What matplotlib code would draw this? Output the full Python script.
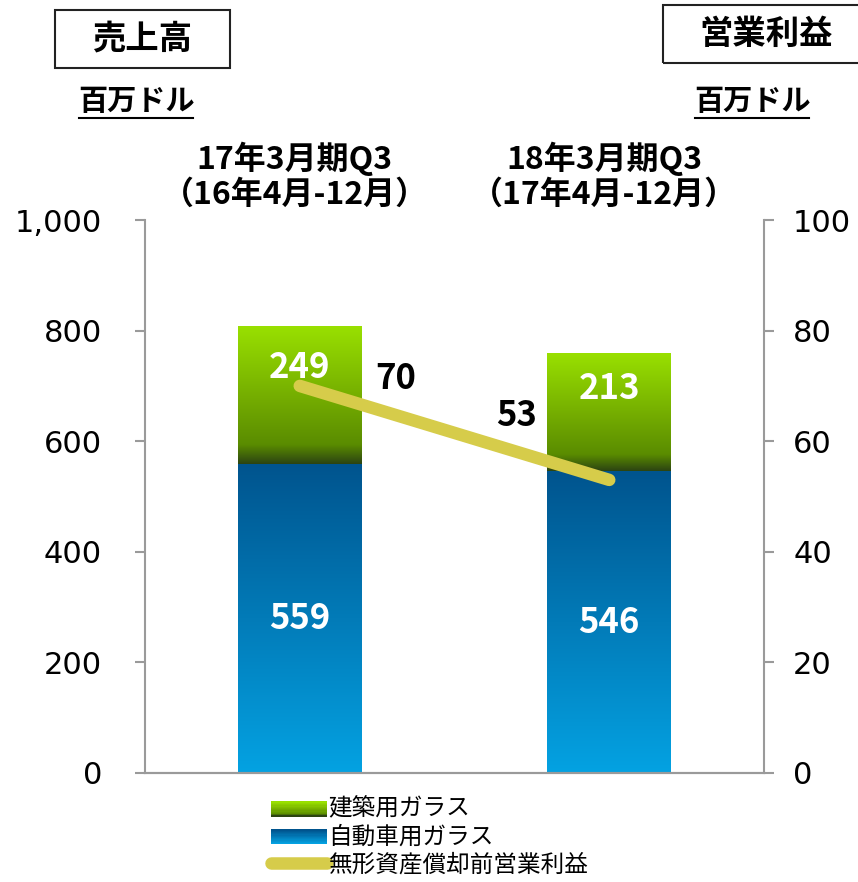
import numpy as np
import matplotlib
matplotlib.use("Agg")
import matplotlib.pyplot as plt
from matplotlib.colors import LinearSegmentedColormap
from matplotlib.patches import Rectangle, Patch
from matplotlib.lines import Line2D
from matplotlib.legend_handler import HandlerPatch

periods = ["17年3月期Q3\n（16年4月-12月）", "18年3月期Q3\n（17年4月-12月）"]
auto_glass = [559, 546]
arch_glass = [249, 213]
op_profit = [70, 53]
series_names = ["建築用ガラス", "自動車用ガラス", "無形資産償却前営業利益"]

jp = ["Noto Sans CJK JP", "DejaVu Sans"]
plt.rcParams["font.family"] = jp

green_cm = LinearSegmentedColormap.from_list(
    "g", [(0, "#2c4412"), (0.14, "#5a8c00"), (0.45, "#72aa00"), (1, "#99e000")])
blue_cm = LinearSegmentedColormap.from_list(
    "b", [(0, "#04a2e2"), (1, "#00548e")])
line_col = "#d6cc4a"
axis_col = "#9a9a9a"

W, H = 858, 882
fig = plt.figure(figsize=(W / 100, H / 100), dpi=100)
ax = fig.add_axes([145 / W, 1 - 773 / H, (764 - 145) / W, (773 - 220) / H])
ax2 = ax.twinx()


def grad_bar(a, x, bottom, height, width, cmap):
    rect = Rectangle((x - width / 2, bottom), width, height, facecolor="none", edgecolor="none")
    a.add_patch(rect)
    grad = np.linspace(0, 1, 256).reshape(-1, 1)
    im = a.imshow(grad, cmap=cmap, origin="lower", aspect="auto",
                  extent=(x - width / 2, x + width / 2, bottom, bottom + height), zorder=2)
    im.set_clip_path(rect)


xs = np.arange(len(periods))
bw = 0.40
for i in xs:
    grad_bar(ax, i, 0, auto_glass[i], bw, blue_cm)
    grad_bar(ax, i, auto_glass[i], arch_glass[i], bw, green_cm)
    ax.text(i, auto_glass[i] / 2, str(auto_glass[i]), color="white", fontsize=25,
            fontweight="bold", ha="center", va="center", family=jp, zorder=5)
    top = auto_glass[i] + arch_glass[i]
    ax.text(i, top - 0.3 * arch_glass[i], str(arch_glass[i]), color="white", fontsize=25,
            fontweight="bold", ha="center", va="center", family=jp, zorder=5)

ax.set_xlim(-0.5, 1.5)
ax.set_ylim(0, 1000)
ax.set_yticks(range(0, 1001, 200))
ax.set_yticklabels([f"{v:,}" for v in range(0, 1001, 200)], family="DejaVu Sans", fontsize=22)
ax.set_xticks([])

ax2.plot(xs, op_profit, color=line_col, lw=9, solid_capstyle="round", zorder=6)
ax2.set_ylim(0, 100)
ax2.set_yticks(range(0, 101, 20))
ax2.set_yticklabels([str(v) for v in range(0, 101, 20)], family="DejaVu Sans", fontsize=22)
ax2.text(xs[0] + 0.31, op_profit[0] + 1.4, str(op_profit[0]), fontsize=25, fontweight="bold",
         ha="center", va="center", family=jp)
ax2.text(xs[1] - 0.30, op_profit[1] + 11.6, str(op_profit[1]), fontsize=25, fontweight="bold",
         ha="center", va="center", family=jp)

for a in (ax, ax2):
    for s in a.spines.values():
        s.set_color(axis_col)
        s.set_linewidth(1.5)
    a.spines["top"].set_visible(False)
    a.tick_params(axis="y", colors=axis_col, labelcolor="black", length=7, width=1.5)
    a.set_zorder(1)
ax.tick_params(axis="y", pad=24)
ax2.tick_params(axis="y", pad=14)
ax.spines["right"].set_visible(False)
ax2.spines["left"].set_visible(False)
ax2.patch.set_visible(False)
ax2.set_zorder(2)

# period headers
for i, p in enumerate(periods):
    px = ax.transData.transform((i, 0))[0]
    fig.text(px / W - 0.006, 1 - 176 / H, p, ha="center", va="center", fontsize=23,
             fontweight="bold", linespacing=1.1, family=jp)

# boxes with titles
def boxed(x0, y0, x1, y1, txt):
    fig.patches.append(Rectangle((x0 / W, 1 - y1 / H), (x1 - x0) / W, (y1 - y0) / H,
                                 transform=fig.transFigure, fill=False, edgecolor="#222222", lw=1.5))
    fig.text((x0 + x1) / 2 / W, 1 - (y0 + y1) / 2 / H, txt, ha="center", va="center",
             fontsize=24, fontweight="bold", family=jp)


boxed(55, 10, 230, 68, "売上高")
boxed(663, 5, 870, 63, "営業利益")

for cx in (136, 752):
    t = fig.text(cx / W, 1 - 101 / H, "百万ドル", ha="center", va="center", fontsize=21,
                 fontweight="bold", family=jp)
    fig.add_artist(Line2D([(cx - 57) / W, (cx + 57) / W], [1 - 118 / H, 1 - 118 / H],
                          color="black", lw=1.5, transform=fig.transFigure))


class GradHandler(HandlerPatch):
    def __init__(self, cmap):
        super().__init__()
        self.cmap = cmap

    def create_artists(self, legend, orig, xd, yd, width, height, fontsize, trans):
        arts = []
        n = 12
        for k in range(n):
            r = Rectangle((xd, yd + height * k / n), width, height / n + 0.3,
                          facecolor=self.cmap(k / (n - 1)), edgecolor="none", transform=trans)
            arts.append(r)
        return arts


hg = Patch(label=series_names[0])
hb = Patch(label=series_names[1])
hl = Line2D([], [], color=line_col, lw=9, solid_capstyle="round", label=series_names[2])
fig.legend(handles=[hg, hb, hl], loc="upper left", bbox_to_anchor=(259 / W, 1 - 786 / H),
           frameon=False, handlelength=2.4, handleheight=0.6, handletextpad=0.05,
           labelspacing=0.2, borderpad=0, prop={"family": jp, "size": 17},
           handler_map={hg: GradHandler(green_cm), hb: GradHandler(blue_cm)})

fig.savefig("out.png", dpi=100)
